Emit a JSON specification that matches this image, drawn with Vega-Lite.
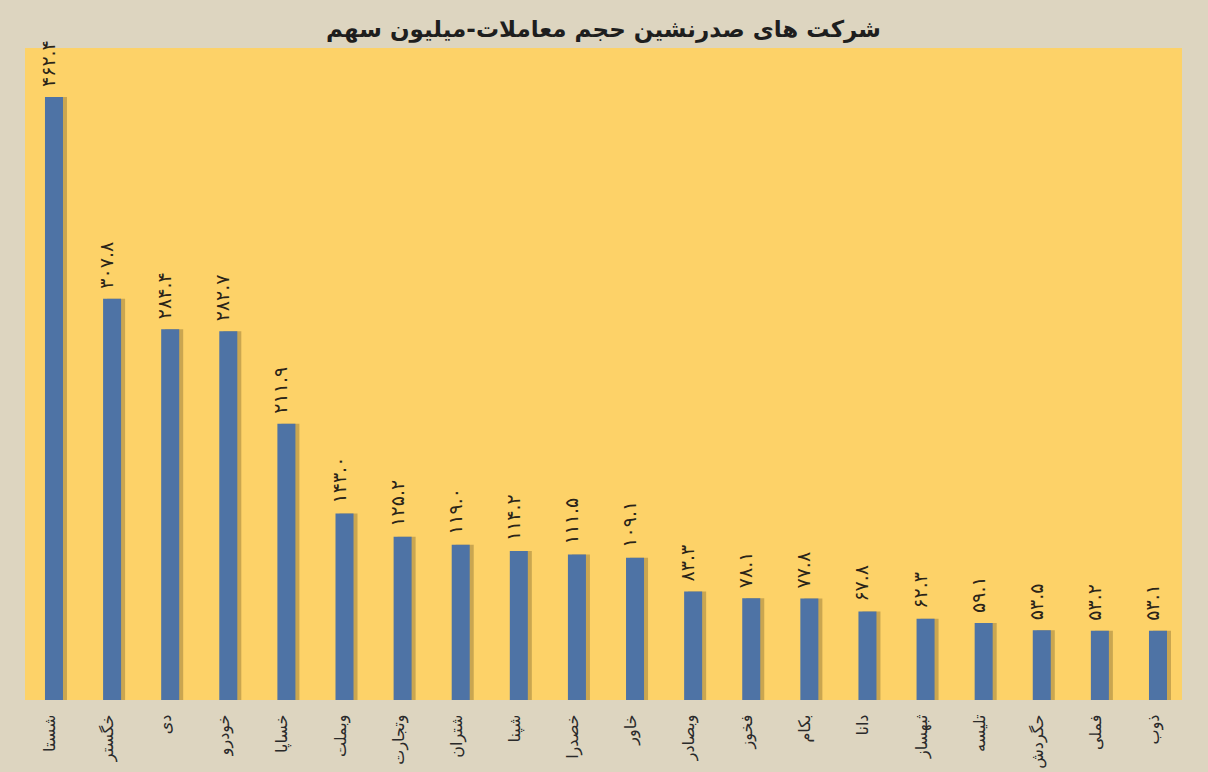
{
  "$schema": "https://vega.github.io/schema/vega-lite/v6.json",
  "width": 1157,
  "height": 652,
  "autosize": {"type": "none"},
  "padding": {"left": 25, "top": 48, "right": 26, "bottom": 72},
  "background": "#ddd5c0",
  "view": {"fill": "#fdd268", "stroke": null},
  "title": {
    "text": "شرکت های صدرنشین حجم معاملات-میلیون سهم",
    "font": "DejaVu Sans",
    "fontSize": 23,
    "fontWeight": "bold",
    "color": "#1e1e1e",
    "anchor": "middle",
    "offset": -2
  },
  "data": {
    "values": [
      {"name": "شستا", "value": 462.4, "label": "۴۶۲.۴"},
      {"name": "خگستر", "value": 307.8, "label": "۳۰۷.۸"},
      {"name": "دی", "value": 284.4, "label": "۲۸۴.۴"},
      {"name": "خودرو", "value": 282.7, "label": "۲۸۲.۷"},
      {"name": "خساپا", "value": 211.9, "label": "۲۱۱.۹"},
      {"name": "وبملت", "value": 143.0, "label": "۱۴۳.۰"},
      {"name": "وتجارت", "value": 125.2, "label": "۱۲۵.۲"},
      {"name": "شتران", "value": 119.0, "label": "۱۱۹.۰"},
      {"name": "شپنا", "value": 114.2, "label": "۱۱۴.۲"},
      {"name": "خصدرا", "value": 111.5, "label": "۱۱۱.۵"},
      {"name": "خاور", "value": 109.1, "label": "۱۰۹.۱"},
      {"name": "وبصادر", "value": 83.3, "label": "۸۳.۳"},
      {"name": "فخوز", "value": 78.1, "label": "۷۸.۱"},
      {"name": "بکام", "value": 77.8, "label": "۷۷.۸"},
      {"name": "دانا", "value": 67.8, "label": "۶۷.۸"},
      {"name": "ثبهساز", "value": 62.3, "label": "۶۲.۳"},
      {"name": "تلیسه", "value": 59.1, "label": "۵۹.۱"},
      {"name": "حگردش", "value": 53.5, "label": "۵۳.۵"},
      {"name": "فملی", "value": 53.2, "label": "۵۳.۲"},
      {"name": "ذوب", "value": 53.1, "label": "۵۳.۱"}
    ]
  },
  "encoding": {
    "x": {
      "field": "name",
      "type": "nominal",
      "sort": null,
      "scale": {"paddingInner": 0.69, "paddingOuter": 0.301, "align": 0.571},
      "axis": {
        "title": null,
        "domain": false,
        "ticks": false,
        "labelAngle": 270,
        "labelFont": "DejaVu Sans",
        "labelFontSize": 16,
        "labelColor": "#2a2a2a",
        "labelPadding": 14,
        "labelOffset": -4
      }
    },
    "y": {
      "field": "value",
      "type": "quantitative",
      "scale": {"domain": [0, 500], "nice": false},
      "axis": null
    }
  },
  "layer": [
    {
      "mark": {"type": "bar", "color": "#6b5526", "opacity": 0.35, "xOffset": 4}
    },
    {
      "mark": {"type": "bar", "color": "#4e73a5"}
    },
    {
      "mark": {
        "type": "text",
        "angle": 270,
        "align": "left",
        "baseline": "middle",
        "dx": 10,
        "dy": -5,
        "font": "DejaVu Sans",
        "fontSize": 19,
        "color": "#2a2418"
      },
      "encoding": {"text": {"field": "label"}}
    }
  ]
}
